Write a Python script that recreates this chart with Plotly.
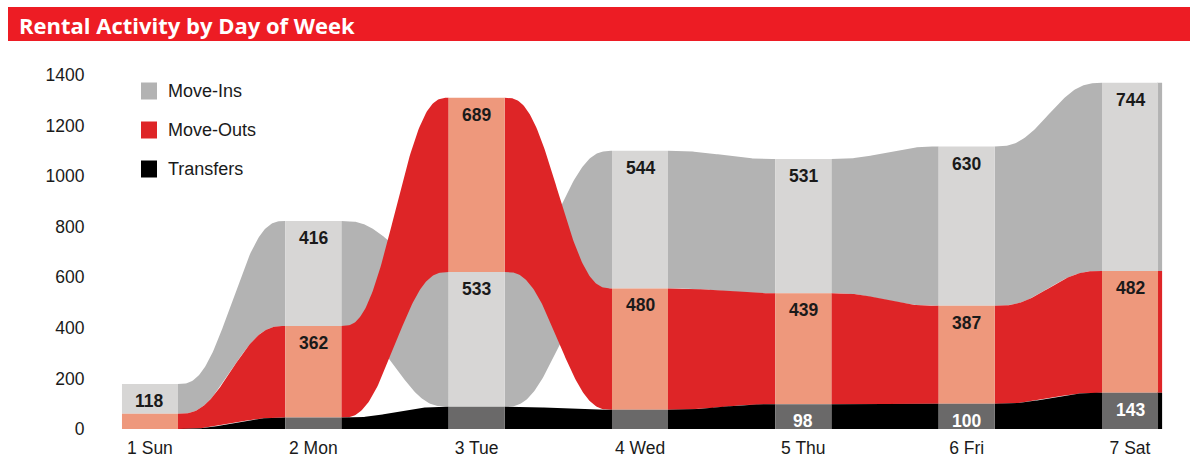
import numpy as np
import plotly.graph_objects as go

# ---------------- data ----------------
days = ["1 Sun", "2 Mon", "3 Tue", "4 Wed", "5 Thu", "6 Fri", "7 Sat"]
series_names = ["Move-Ins", "Move-Outs", "Transfers"]
move_ins = [118, 416, 533, 544, 531, 630, 744]
move_outs = [60, 362, 689, 480, 439, 387, 482]
transfers = [0, 45, 88, 76, 98, 100, 143]
y_ticks = [0, 200, 400, 600, 800, 1000, 1200, 1400]
title_text = "Rental Activity by Day of Week"

# ---------------- styles ----------------
ribbon_colors = ["#b3b3b3", "#de2527", "#000000"]
column_colors = ["#d7d6d5", "#ee987c", "#6a6969"]
label_colors = ["#1a1a1a", "#1a1a1a", "#ffffff"]
LABEL_MIN = 95
COL_W = 0.343
TAIL = 0.025
FONT = "Liberation Sans, Arial, sans-serif"

values = [move_ins, move_outs, transfers]
n_days = len(days)
n_ser = len(values)

# stacking: smallest value at bottom, largest on top, per day
bottoms = np.zeros((n_ser, n_days))
tops = np.zeros((n_ser, n_days))
for d in range(n_days):
    order = sorted(range(n_ser), key=lambda s: values[s][d])
    cum = 0.0
    for s in order:
        bottoms[s, d] = cum
        cum += values[s][d]
        tops[s, d] = cum

hw = COL_W / 2
fig = go.Figure()

def smooth(t):
    return t * t * t * (t * (6 * t - 15) + 10)

# ribbons
for s in range(n_ser):
    xs, ys = [], []
    for d in range(n_days - 1):
        x0, x1 = d + hw, d + 1 - hw
        xx = np.linspace(x0, x1, 100)
        st = smooth((xx - x0) / (x1 - x0))
        top = tops[s, d] + (tops[s, d + 1] - tops[s, d]) * st
        bot = bottoms[s, d] + (bottoms[s, d + 1] - bottoms[s, d]) * st
        xs += list(xx) + list(xx[::-1]) + [None]
        ys += list(top) + list(bot[::-1]) + [None]
    # short tail after last column
    d = n_days - 1
    xa, xb = d + hw - 0.005, d + hw + TAIL
    xs += [xa, xb, xb, xa, None]
    ys += [tops[s, d], tops[s, d], bottoms[s, d], bottoms[s, d], None]
    fig.add_trace(go.Scatter(x=xs, y=ys, mode="lines", fill="toself",
                             fillcolor=ribbon_colors[s], line=dict(width=0),
                             hoverinfo="skip", showlegend=False))

# columns
for s in range(n_ser):
    xs, ys = [], []
    for d in range(n_days):
        if values[s][d] <= 0:
            continue
        xa, xb = d - hw, d + hw
        xs += [xa, xb, xb, xa, None]
        ys += [tops[s, d], tops[s, d], bottoms[s, d], bottoms[s, d], None]
    fig.add_trace(go.Scatter(x=xs, y=ys, mode="lines", fill="toself",
                             fillcolor=column_colors[s], line=dict(width=0),
                             hoverinfo="skip", showlegend=False))

# value labels
for s in range(n_ser):
    for d in range(n_days):
        v = values[s][d]
        if v < LABEL_MIN:
            continue
        fig.add_annotation(x=d, y=tops[s, d], xref="x", yref="y",
                           text="<b>%d</b>" % v, showarrow=False,
                           yanchor="top", yshift=-5,
                           font=dict(family=FONT, size=17.5, color=label_colors[s]))

# layout geometry (pixels)
W, H = 1200, 470
L, R, T, B = 100, 20, 60, 41
pw, ph = W - L - R, H - T - B

def px(x):
    return (x - L) / pw

def py(y):
    return (H - B - y) / ph

# legend (custom)
leg_y = [91, 130, 169]
for s in range(n_ser):
    fig.add_shape(type="rect", xref="paper", yref="paper",
                  x0=px(141), x1=px(157), y0=py(leg_y[s] + 8.5), y1=py(leg_y[s] - 8.5),
                  fillcolor=ribbon_colors[s], line=dict(width=0))
    fig.add_annotation(xref="paper", yref="paper", x=px(166), y=py(leg_y[s]),
                       xanchor="left", yanchor="middle", showarrow=False,
                       text=series_names[s],
                       font=dict(family=FONT, size=18, color="#1a1a1a"))

# title bar
fig.add_shape(type="rect", xref="paper", yref="paper",
              x0=px(8), x1=px(1190), y0=py(41), y1=py(7),
              fillcolor="#ed1c24", line=dict(width=0), layer="below")
fig.add_annotation(xref="paper", yref="paper", x=px(17), y=py(24.5),
                   xanchor="left", yanchor="middle", showarrow=False,
                   text="<b>%s</b>" % title_text,
                   font=dict(family="Open Sans, sans-serif", size=22, color="white"))

per_unit_px = 354 / 1400.0
fig.update_layout(
    width=W, height=H,
    margin=dict(l=L, r=R, t=T, b=B, pad=0),
    paper_bgcolor="white", plot_bgcolor="white",
    showlegend=False,
    xaxis=dict(range=[-0.306, 6.306], tickvals=list(range(n_days)), ticktext=days,
               showgrid=False, zeroline=False, showline=False, fixedrange=True,
               ticks="outside", ticklen=3, tickcolor="rgba(0,0,0,0)",
               tickfont=dict(family=FONT, size=17.5, color="#1a1a1a")),
    yaxis=dict(range=[0, ph / per_unit_px], tickvals=y_ticks,
               ticktext=[str(v) for v in y_ticks],
               showgrid=False, zeroline=False, showline=False, fixedrange=True,
               ticks="outside", ticklen=11, tickcolor="rgba(0,0,0,0)",
               tickfont=dict(family=FONT, size=17.5, color="#1a1a1a")),
)

fig.write_html("out.html")
